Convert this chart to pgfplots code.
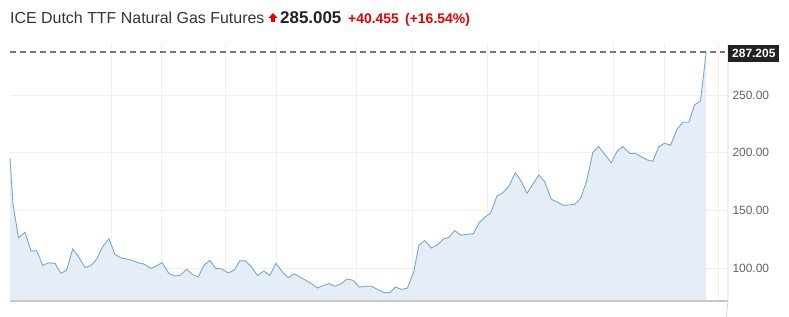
\documentclass[border=0pt]{standalone}
\usepackage{fontspec}
\setmainfont{Liberation Sans}
\usepackage{pgfplots}
\usepackage{pgfplotstable}
\pgfplotsset{compat=1.18}
\definecolor{linec}{RGB}{122,166,207}
\definecolor{fillc}{RGB}{229,238,246}
\definecolor{gridc}{RGB}{240,240,240}
\definecolor{axisc}{RGB}{200,200,200}
\definecolor{labc}{RGB}{100,100,100}
\definecolor{titc}{RGB}{51,51,51}
\definecolor{redc}{RGB}{230,0,0}
\definecolor{boxc}{RGB}{34,34,34}
\definecolor{dashc}{RGB}{120,120,120}
\pgfplotstableread{
x y
10 195.3
13 155.7
18.5 126.5
25 131.4
31 115.1
36.7 115.4
42.7 102.6
48.3 104.9
55 104.4
61 95.9
66.7 98.5
72.7 116.8
78.3 110.7
85 100.9
90.7 102.3
96.7 108.1
102.7 118.8
109 125.8
115 112.2
121 109.2
126.5 108.3
131.7 107.2
138.3 104.9
144.3 103.8
151 100.0
156.7 102.3
162.3 105.2
169 95.6
175 93.5
180.7 94.2
186.7 99.4
192.7 94.8
198.3 92.7
204.3 102.9
210 107.0
216 100.0
221.7 99.7
228.3 96.2
234.3 98.5
240 106.6
245.5 106.6
251.7 101.4
257.7 93.9
264 97.9
270 93.9
276 104.4
282.7 97.0
288.3 92.1
294.3 95.3
300 92.7
306 89.8
311.7 86.9
317.7 83.1
323.3 85.2
329.3 86.9
335 84.6
341 86.6
347.3 90.9
353.3 89.8
359.5 83.9
366.7 84.8
371.7 84.6
378.3 81.7
384.3 79.1
390 79.1
395.7 84.0
401.7 81.9
407.7 83.1
414 97.0
419.3 120.3
425 124.1
431.7 117.7
438.3 120.9
443.3 125.3
449.3 127.1
455 132.8
461 128.8
468.3 129.7
473.5 130.0
479.3 139.3
485 144.2
491 148.0
497.3 162.7
503.3 165.5
509.3 171.3
515.7 182.8
521.7 175.1
527.3 165.0
533.3 173.1
539.3 180.8
545 175.1
551.7 159.8
557.3 157.7
563.3 154.7
569.3 154.9
575 155.5
581 160.7
587 175.5
593.3 200.4
599 205.3
605 198.9
611.7 191.4
617.7 201.6
623.3 205.3
630 199.5
635.7 199.5
641.7 196.7
647.7 193.8
653.3 192.7
659.3 205.3
665 208.3
671 206.5
677.7 220.6
683.3 226.4
689.3 226.4
695 241.4
701 245.0
706.7 287.205
}\gasdata
\begin{document}
\begin{tikzpicture}
\begin{axis}[
  at={(10bp,16bp)}, anchor=south west,
  scale only axis, width=718bp, height=258bp,
  xmin=10, xmax=728.5, ymin=71.9, ymax=294.95,
  clip=false,
  axis line style={draw=none},
  xtick={111,162,226,277,357,413,488,539,614,665,719},
  xticklabels={},
  ytick={100,150,200,250},
  yticklabel pos=right,
  major tick length=0pt,
  xmajorgrids, ymajorgrids,
  grid style={gridc, line width=0.8bp},
  yticklabel style={font=\fontsize{12}{14}\selectfont, text=labc, anchor=west, xshift=1bp},
  /pgf/number format/.cd, fixed, fixed zerofill, precision=2, assume math mode=true,
]
\addplot[draw=none, fill=fillc] table[x=x,y=y]{\gasdata} \closedcycle;
\addplot[linec, line width=0.9bp] table[x=x,y=y]{\gasdata};
\addplot[dashc, line width=1.1bp, dash pattern=on 6bp off 4bp] coordinates {(10,287.205) (725,287.205)};
\draw[axisc, line width=1.2bp] (rel axis cs:0,0) -- (rel axis cs:1,0);
\draw[axisc!70, line width=0.8bp] (rel axis cs:1,1) -- (rel axis cs:1,0) -- ++(0,-16bp);
\node[anchor=west, fill=boxc, text=white, font=\fontsize{12}{14}\selectfont\bfseries, inner xsep=4bp, inner ysep=0pt, minimum height=17bp] at ([yshift=-1.5bp]axis cs:728.5,287.205) {287.205};
\end{axis}
\node[anchor=base west, inner sep=0pt, text=titc, font=\fontsize{16}{18}\selectfont] at (10bp,293.7bp) {ICE Dutch TTF Natural Gas Futures};
\fill[redc] (273bp,304bp) -- (277.5bp,299bp) -- (275bp,299bp) -- (275bp,295bp) -- (271bp,295bp) -- (271bp,299bp) -- (268.5bp,299bp) -- cycle;
\node[anchor=base west, inner sep=0pt, text=boxc, font=\fontsize{17}{19}\selectfont\bfseries] at (280bp,293.7bp) {285.005};
\node[anchor=base west, inner sep=0pt, text=redc, font=\fontsize{14}{16}\selectfont\bfseries] at (348bp,293.7bp) {+40.455};
\node[anchor=base west, inner sep=0pt, text=redc, font=\fontsize{14}{16}\selectfont\bfseries] at (405bp,293.7bp) {(+16.54\%)};
\pgfresetboundingbox
\path[use as bounding box] (0,0) rectangle (789bp,317bp);
\end{tikzpicture}
\end{document}
